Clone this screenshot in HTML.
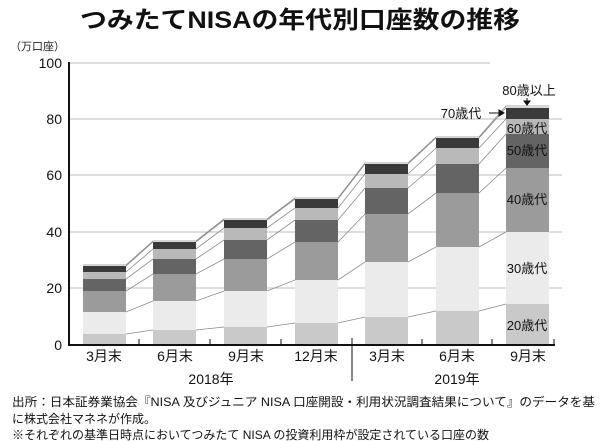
<!DOCTYPE html>
<html><head><meta charset="utf-8"><style>
html,body{margin:0;padding:0;background:#fff;width:600px;height:441px;overflow:hidden}
svg{display:block;font-family:"Liberation Sans","Noto Sans CJK JP",sans-serif}
</style></head><body>
<svg width="600" height="441" viewBox="0 0 600 441">
<text x="300" y="28" text-anchor="middle" font-size="24" font-weight="bold" fill="#111" textLength="440" lengthAdjust="spacingAndGlyphs">つみたてNISAの年代別口座数の推移</text>
<text x="10" y="50" font-size="11" fill="#222">（万口座）</text>
<g stroke="#bdbdbd" stroke-width="1">
<line x1="70" y1="63" x2="490" y2="63"/><line x1="70" y1="119" x2="562" y2="119"/><line x1="70" y1="175" x2="562" y2="175"/><line x1="70" y1="232" x2="562" y2="232"/><line x1="70" y1="288" x2="562" y2="288"/>
</g>
<g font-size="14" fill="#111" text-anchor="end">
<text x="62" y="68">100</text><text x="62" y="124">80</text><text x="62" y="180">60</text><text x="62" y="237">40</text><text x="62" y="293">20</text><text x="62" y="350">0</text>
</g>
<g fill="none" stroke="#8a8a8a" stroke-width="0.8">
<polyline points="83,334 126,334 153,330 196,330 224,327 267,327 295,323 338,323 365,317 408,317 436,311 479,311 506,304 549,304"/>
<polyline points="83,312 126,312 153,301 196,301 224,291 267,291 295,280 338,280 365,262 408,262 436,247 479,247 506,232 549,232"/>
<polyline points="83,291 126,291 153,274 196,274 224,259 267,259 295,242 338,242 365,214 408,214 436,193 479,193 506,168 549,168"/>
<polyline points="83,279 126,279 153,259 196,259 224,240 267,240 295,220 338,220 365,188 408,188 436,164 479,164 506,134 549,134"/>
<polyline points="83,272 126,272 153,249 196,249 224,228 267,228 295,208 338,208 365,174 408,174 436,148 479,148 506,119 549,119"/>
<polyline points="83,266 126,266 153,242 196,242 224,220 267,220 295,199 338,199 365,164 408,164 436,138 479,138 506,108 549,108"/>
<polyline points="83,265 126,265 153,241 196,241 224,219 267,219 295,198 338,198 365,163 408,163 436,137 479,137 506,106 549,106"/>
</g>
<g>
<rect x="83" y="334" width="43" height="11" fill="#c9c9c9"/><rect x="83" y="312" width="43" height="22" fill="#ebebeb"/><rect x="83" y="291" width="43" height="21" fill="#9b9b9b"/><rect x="83" y="279" width="43" height="12" fill="#646464"/><rect x="83" y="272" width="43" height="7" fill="#b9b9b9"/><rect x="83" y="266" width="43" height="6" fill="#3a3a3a"/><rect x="83" y="265" width="43" height="1" fill="#d8d8d8"/>
<rect x="153" y="330" width="43" height="15" fill="#c9c9c9"/><rect x="153" y="301" width="43" height="29" fill="#ebebeb"/><rect x="153" y="274" width="43" height="27" fill="#9b9b9b"/><rect x="153" y="259" width="43" height="15" fill="#646464"/><rect x="153" y="249" width="43" height="10" fill="#b9b9b9"/><rect x="153" y="242" width="43" height="7" fill="#3a3a3a"/><rect x="153" y="241" width="43" height="1" fill="#d8d8d8"/>
<rect x="224" y="327" width="43" height="18" fill="#c9c9c9"/><rect x="224" y="291" width="43" height="36" fill="#ebebeb"/><rect x="224" y="259" width="43" height="32" fill="#9b9b9b"/><rect x="224" y="240" width="43" height="19" fill="#646464"/><rect x="224" y="228" width="43" height="12" fill="#b9b9b9"/><rect x="224" y="220" width="43" height="8" fill="#3a3a3a"/><rect x="224" y="219" width="43" height="1" fill="#d8d8d8"/>
<rect x="295" y="323" width="43" height="22" fill="#c9c9c9"/><rect x="295" y="280" width="43" height="43" fill="#ebebeb"/><rect x="295" y="242" width="43" height="38" fill="#9b9b9b"/><rect x="295" y="220" width="43" height="22" fill="#646464"/><rect x="295" y="208" width="43" height="12" fill="#b9b9b9"/><rect x="295" y="199" width="43" height="9" fill="#3a3a3a"/><rect x="295" y="198" width="43" height="1" fill="#d8d8d8"/>
<rect x="365" y="317" width="43" height="28" fill="#c9c9c9"/><rect x="365" y="262" width="43" height="55" fill="#ebebeb"/><rect x="365" y="214" width="43" height="48" fill="#9b9b9b"/><rect x="365" y="188" width="43" height="26" fill="#646464"/><rect x="365" y="174" width="43" height="14" fill="#b9b9b9"/><rect x="365" y="164" width="43" height="10" fill="#3a3a3a"/><rect x="365" y="163" width="43" height="1" fill="#d8d8d8"/>
<rect x="436" y="311" width="43" height="34" fill="#c9c9c9"/><rect x="436" y="247" width="43" height="64" fill="#ebebeb"/><rect x="436" y="193" width="43" height="54" fill="#9b9b9b"/><rect x="436" y="164" width="43" height="29" fill="#646464"/><rect x="436" y="148" width="43" height="16" fill="#b9b9b9"/><rect x="436" y="138" width="43" height="10" fill="#3a3a3a"/><rect x="436" y="137" width="43" height="1" fill="#d8d8d8"/>
<rect x="506" y="304" width="43" height="41" fill="#c9c9c9"/><rect x="506" y="232" width="43" height="72" fill="#ebebeb"/><rect x="506" y="168" width="43" height="64" fill="#9b9b9b"/><rect x="506" y="134" width="43" height="34" fill="#646464"/><rect x="506" y="119" width="43" height="15" fill="#b9b9b9"/><rect x="506" y="108" width="43" height="11" fill="#3a3a3a"/><rect x="506" y="106" width="43" height="2" fill="#d8d8d8"/>
</g>
<g stroke="#111">
<line x1="69" y1="62" x2="69" y2="346" stroke-width="2"/>
<line x1="68" y1="345" x2="555" y2="345" stroke-width="2"/>
<line x1="139" y1="345" x2="139" y2="339" stroke-width="1"/><line x1="210" y1="345" x2="210" y2="339" stroke-width="1"/><line x1="281" y1="345" x2="281" y2="339" stroke-width="1"/><line x1="422" y1="345" x2="422" y2="339" stroke-width="1"/><line x1="492" y1="345" x2="492" y2="339" stroke-width="1"/><line x1="554" y1="345" x2="554" y2="339" stroke-width="1"/>
<line x1="352" y1="338" x2="352" y2="381" stroke-width="1"/>
</g>
<g font-size="14" fill="#111" text-anchor="middle">
<text x="104" y="361">3月末</text><text x="175" y="361">6月末</text><text x="246" y="361">9月末</text><text x="316" y="361">12月末</text><text x="387" y="361">3月末</text><text x="457" y="361">6月末</text><text x="528" y="361">9月末</text>
<text x="211" y="384">2018年</text><text x="457" y="384">2019年</text>
</g>
<g font-size="13" fill="#111" text-anchor="middle">
<text x="529" y="95">80歳以上</text>
<text x="527" y="133">60歳代</text><text x="527" y="155">50歳代</text><text x="527" y="204">40歳代</text><text x="527" y="273">30歳代</text><text x="527" y="330">20歳代</text>
<text x="461" y="118">70歳代</text>
</g>
<g stroke="#111" stroke-width="1" fill="#111">
<line x1="527" y1="98" x2="527" y2="104"/><polygon points="524,101 530,101 527,105"/>
<line x1="489" y1="113" x2="500" y2="113"/><polygon points="499,110 499,116 504,113"/>
</g>
<g font-size="12" fill="#111">
<text x="12" y="406" textLength="583" lengthAdjust="spacingAndGlyphs">出所：日本証券業協会『NISA 及びジュニア NISA 口座開設・利用状況調査結果について』のデータを基</text>
<text x="12" y="423">に株式会社マネネが作成。</text>
<text x="12" y="439">※それぞれの基準日時点においてつみたて NISA の投資利用枠が設定されている口座の数</text>
</g>
</svg>
</body></html>
